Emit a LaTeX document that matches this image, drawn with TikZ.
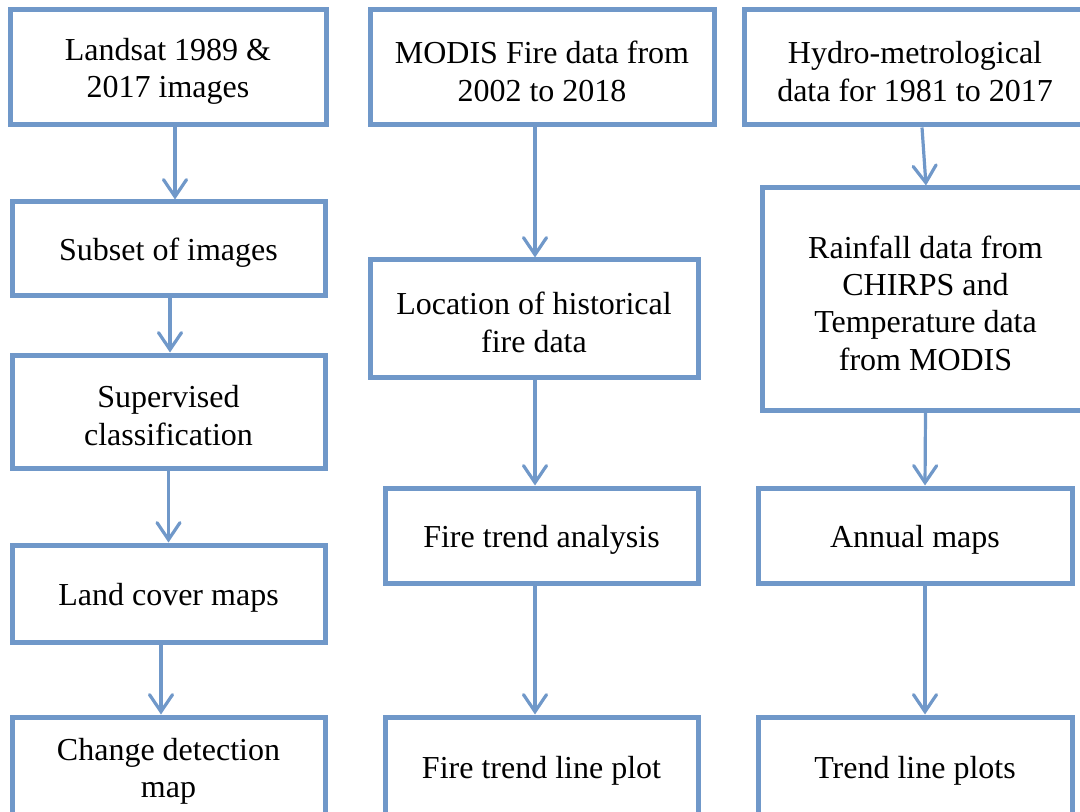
\documentclass[tikz,border=0pt]{standalone}
\usepackage{fontspec}
\setmainfont{Liberation Serif}
\usetikzlibrary{arrows.meta}
\definecolor{flowblue}{RGB}{112,152,201}

\begin{document}
\begin{tikzpicture}[x=0.5pt, y=-0.5pt,
    font=\fontsize{16}{18.7}\selectfont,
    box/.style={draw=flowblue, line width=2.5pt, fill=white, inner sep=0pt,
        label={[txt]center:{#1}}},
    txt/.style={align=center, inner sep=0pt, yshift=-2pt},
    link/.style={draw=flowblue, line width=1.6pt,
        -{Straight Barb[length=8.5pt, width=11.5pt, line cap=round]}}]
    \useasboundingbox (0,0) rectangle (1080,812);
    \clip (0,0) rectangle (1080,812);
    % left column: land cover
    \node[box={Landsat 1989 \&\\2017 images}, minimum width=158pt, minimum height=57.5pt] (land) at (168,67.5) {};
    \node[box={Subset of images}, minimum width=156.5pt, minimum height=47pt] (subset) at (168.5,249) {};
    \node[box={Supervised\\classification}, minimum width=156.5pt, minimum height=56.5pt] (superv) at (168.5,411.5) {};
    \node[box={Land cover maps}, minimum width=156.5pt, minimum height=48.5pt] (cover) at (168.5,593.5) {};
    \node[box={Change detection\\map}, minimum width=156.5pt, minimum height=50pt] (change) at (168.5,767) {};
    % middle column: fire
    \node[box={MODIS Fire data from\\2002 to 2018}, minimum width=172pt, minimum height=57.5pt] (modis) at (542,67.5) {};
    \node[box={Location of historical\\fire data}, minimum width=164pt, minimum height=58.5pt] (locat) at (534,318.5) {};
    \node[box={Fire trend analysis}, minimum width=156.5pt, minimum height=47.5pt] (ftrend) at (541.5,535.5) {};
    \node[box={Fire trend line plot}, minimum width=156.5pt, minimum height=50pt] (fplot) at (541.5,767) {};
    % right column: climate
    \node[box={Hydro-metrological\\data for 1981 to 2017}, minimum width=171pt, minimum height=57.5pt] (hydro) at (915,67.5) {};
    \node[box={Rainfall data from\\CHIRPS and\\Temperature data\\from MODIS}, minimum width=163.5pt, minimum height=111pt] (rain) at (925.5,299) {};
    \node[box={Annual maps}, minimum width=157pt, minimum height=47.5pt] (annual) at (915,535.5) {};
    \node[box={Trend line plots}, minimum width=157pt, minimum height=50pt] (tplot) at (915,767) {};
    % arrows
    \foreach \from/\to/\sa/\sb in {land/subset/3.5/3.25, subset/superv/0.75/0.75,
        superv/cover/0/0, cover/change/-3.75/-3.75,
        modis/locat/-3.5/0.5, locat/ftrend/0.5/-3.25, ftrend/fplot/-3.25/-3.25,
        hydro/rain/3.5/0.25, rain/annual/0/5, annual/tplot/5/5}
        \draw[link] ([xshift=\sa pt]\from.south) -- ([xshift=\sb pt]\to.north);
\end{tikzpicture}
\end{document}
